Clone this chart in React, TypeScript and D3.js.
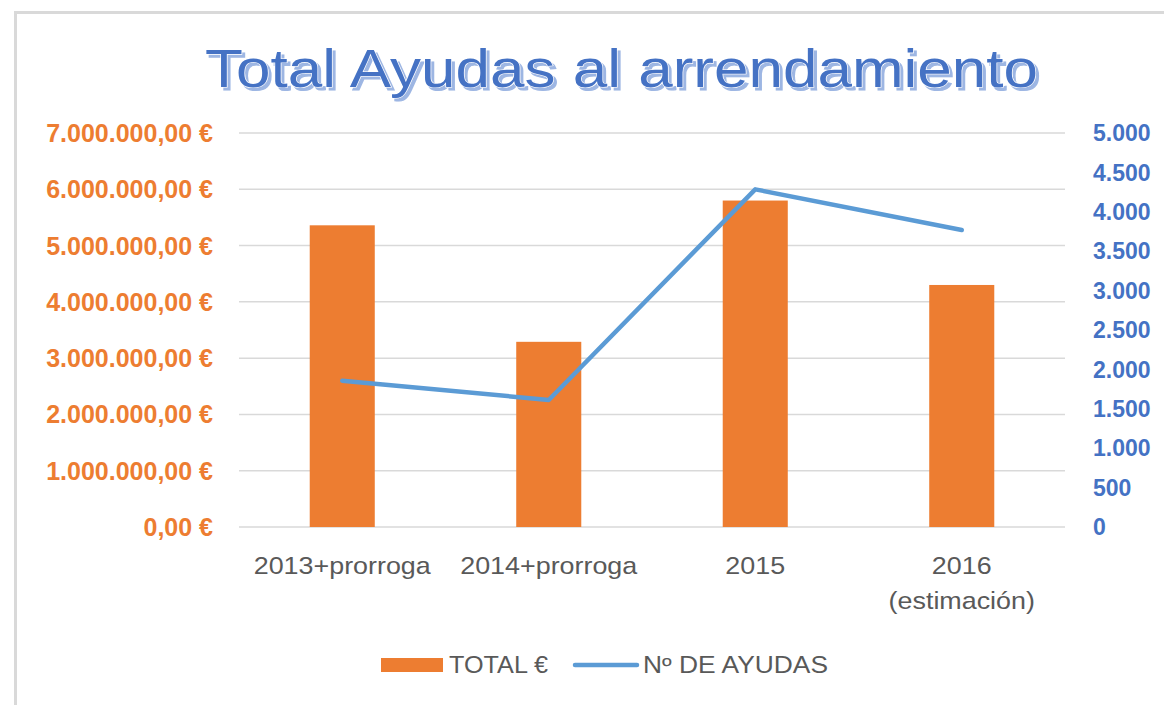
import React from "react";
import * as d3 from "d3";

// chart data
const categories = ["2013+prorroga", "2014+prorroga", "2015", "2016\n(estimación)"];
const totalEuros = [5360000, 3290000, 5800000, 4300000];
const numAyudas = [1857, 1612, 4285, 3769];
const leftTicks = [0, 1000000, 2000000, 3000000, 4000000, 5000000, 6000000, 7000000];
const rightTicks = [0, 500, 1000, 1500, 2000, 2500, 3000, 3500, 4000, 4500, 5000];

const W = 1164;
const H = 705;
const ORANGE = "#ed7d31";
const BLUE = "#5b9bd5";
const AXIS_BLUE = "#4472c4";
const GREY = "#595959";
const FONT = "'Liberation Sans', Arial, sans-serif";

const esLocale = d3.formatLocale({
  decimal: ",",
  thousands: ".",
  grouping: [3],
  currency: ["", " €"],
});
const fmtEuro = (v: number) => esLocale.format(",.2f")(v) + " €";
const fmtInt = esLocale.format(",.0f");

export default function App() {
  const left = 239;
  const right = 1065;
  const top = 133;
  const bottom = 527;

  const x = d3.scaleBand<string>().domain(categories).range([left, right]).padding(0);
  const bw = x.bandwidth();
  const barW = bw * 0.315;
  const cx = (c: string) => (x(c) as number) + bw / 2;

  const yL = d3.scaleLinear().domain([0, 7000000]).range([bottom, top]);
  const yR = d3.scaleLinear().domain([0, 5000]).range([bottom, top]);

  const line = d3
    .line<number>()
    .x((_, i) => cx(categories[i]))
    .y((d) => yR(d));

  const title = "Total Ayudas al arrendamiento";

  return (
    <svg
      width={W}
      height={H}
      style={{ position: "absolute", left: 0, top: 0, background: "#fff" }}
      fontFamily={FONT}
    >
      <defs>
        <filter id="titleShadow" x="-5%" y="-20%" width="110%" height="150%">
          <feOffset in="SourceAlpha" dx={3} dy={3} result="off" />
          <feFlood floodColor="#9db6e3" result="col" />
          <feComposite in="col" in2="off" operator="in" result="shadow" />
          <feMerge>
            <feMergeNode in="shadow" />
            <feMergeNode in="SourceGraphic" />
          </feMerge>
        </filter>
      </defs>

      <rect x={15.5} y={12.5} width={W + 20} height={H + 20} fill="#fff" stroke="#d9d9d9" strokeWidth={3} />

      {/* title */}
      <text
        x={205}
        y={87}
        fontSize={54}
        fill={AXIS_BLUE}
        stroke="#fff"
        strokeWidth={1.2}
        paintOrder="stroke"
        textLength={833}
        lengthAdjust="spacingAndGlyphs"
        filter="url(#titleShadow)"
      >
        {title}
      </text>

      {/* gridlines */}
      {leftTicks.map((t) => (
        <line key={t} x1={left} x2={right} y1={yL(t)} y2={yL(t)} stroke="#d9d9d9" strokeWidth={1.5} />
      ))}

      {/* bars */}
      {categories.map((c, i) => (
        <rect
          key={c}
          x={cx(c) - barW / 2}
          y={yL(totalEuros[i])}
          width={barW}
          height={bottom - yL(totalEuros[i])}
          fill={ORANGE}
        />
      ))}

      {/* line */}
      <path d={line(numAyudas) || ""} fill="none" stroke={BLUE} strokeWidth={4.5} strokeLinecap="round" strokeLinejoin="round" />

      {/* left axis labels */}
      {leftTicks.map((t) => (
        <text key={t} x={213} y={yL(t)} dy="0.36em" textAnchor="end" fontSize={25} fontWeight="bold" fill={ORANGE}>
          {fmtEuro(t)}
        </text>
      ))}

      {/* right axis labels */}
      {rightTicks.map((t) => (
        <text key={t} x={1093} y={yR(t)} dy="0.36em" fontSize={23} fontWeight="bold" fill={AXIS_BLUE}>
          {fmtInt(t)}
        </text>
      ))}

      {/* x labels */}
      {categories.map((c) =>
        c.split("\n").map((part, j) => (
          <text
            key={c + j}
            transform={`translate(${cx(c)},${574 + j * 35}) scale(1.12,1)`}
            textAnchor="middle"
            fontSize={24}
            fill={GREY}
          >
            {part}
          </text>
        ))
      )}

      {/* legend */}
      <rect x={381} y={658} width={62} height={14} fill={ORANGE} />
      <text x={449} y={673} fontSize={23} fill={GREY} textLength={99} lengthAdjust="spacingAndGlyphs">
        TOTAL €
      </text>
      <line x1={575} x2={637} y1={665} y2={665} stroke={BLUE} strokeWidth={4.5} strokeLinecap="round" />
      <text x={643} y={673} fontSize={23} fill={GREY} textLength={185} lengthAdjust="spacingAndGlyphs">
        Nº DE AYUDAS
      </text>
    </svg>
  );
}
